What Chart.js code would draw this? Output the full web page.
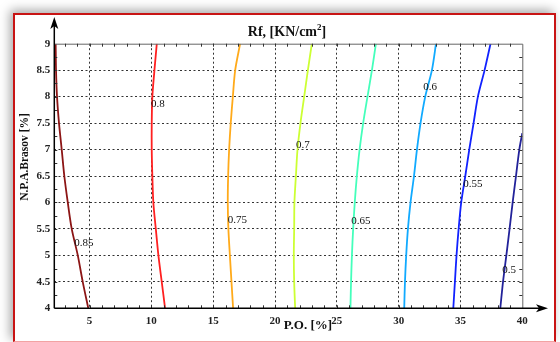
<!DOCTYPE html>
<html>
<head>
<meta charset="utf-8">
<script src="https://cdn.jsdelivr.net/npm/chart.js@4.4.1/dist/chart.umd.min.js"></script>
<style>
  html, body { margin: 0; padding: 0; background: #fff; overflow: hidden; }
  .frame {
    position: absolute; left: 13px; top: 13px; width: 539px; height: 326px;
    border: 2px solid #c81414; border-bottom: 1px solid #f2a3a3;
    box-shadow: -3px -3px 10px rgba(0, 0, 0, 0.35); background: #fff;
  }
  #rf { position: absolute; left: 0; top: 0; }
</style>
</head>
<body>
<div class="frame"></div>
<canvas id="rf" width="560" height="342"></canvas>
<script>
// N.P.A.Brasov values where each contour was read
const yLevels = [4, 4.5, 5, 5.5, 6, 6.5, 7, 7.5, 8, 8.5, 9];
const yLevels050 = [4, 4.5, 5, 5.5, 6, 6.5, 7, 7.31];

// P.O. values of each Rf contour
const x085 = [4.90, 4.45, 4.05, 3.56, 3.24, 2.96, 2.75, 2.53, 2.37, 2.29, 2.26];
const x080 = [11.11, 10.84, 10.57, 10.36, 10.16, 10.08, 10.03, 10.03, 10.08, 10.25, 10.44];
const x075 = [16.61, 16.48, 16.35, 16.23, 16.18, 16.21, 16.29, 16.42, 16.59, 16.78, 17.18];
const x070 = [21.63, 21.55, 21.52, 21.55, 21.57, 21.69, 21.82, 22.06, 22.36, 22.66, 22.98];
const x065 = [26.10, 26.15, 26.22, 26.32, 26.45, 26.62, 26.84, 27.13, 27.48, 27.84, 28.16];
const x060 = [30.45, 30.51, 30.61, 30.75, 30.96, 31.24, 31.48, 31.77, 32.15, 32.69, 33.02];
const x055 = [34.42, 34.55, 34.68, 34.85, 35.06, 35.39, 35.71, 36.06, 36.41, 36.95, 37.43];
const x050 = [38.22, 38.44, 38.71, 38.97, 39.22, 39.49, 39.76, 40];

const levels = ["0.85", "0.8", "0.75", "0.7", "0.65", "0.6", "0.55", "0.5"];
const colors = ["#8c1515", "#ff2020", "#ffaa1a", "#ccff33", "#44ffbb", "#11aaff", "#1122ff", "#22229a"];

// where the clabel texts sit
const labelX = [3.77, 9.98, 16.18, 21.69, 26.16, 31.99, 35.23, 38.38];
const labelY = [5.23, 7.86, 5.67, 7.09, 5.65, 8.18, 6.35, 4.72];

const xTicks = [5, 10, 15, 20, 25, 30, 35, 40];
const yTicks = [4, 4.5, 5, 5.5, 6, 6.5, 7, 7.5, 8, 8.5, 9];

const serif = '"Liberation Serif", "Times New Roman", serif';

const contours = [
    [x085, yLevels], [x080, yLevels], [x075, yLevels], [x070, yLevels],
    [x065, yLevels], [x060, yLevels], [x055, yLevels], [x050, yLevels050]
];

const datasets = contours.map((c, i) => ({
    label: levels[i],
    data: c[1].map((yv, k) => ({ x: c[0][k], y: yv })),
    showLine: true,
    borderColor: colors[i],
    borderWidth: 1.8,
    pointRadius: 0,
    tension: 0.3,
    fill: false
}));

const decor = {
    id: "decor",
    afterDraw(chart) {
        const { ctx, chartArea: a, scales: { x, y } } = chart;
        ctx.save();

        // top / right box
        ctx.strokeStyle = "#666";
        ctx.lineWidth = 1;
        ctx.beginPath();
        ctx.moveTo(a.left, a.top + 0.5);
        ctx.lineTo(a.right + 0.5, a.top + 0.5);
        ctx.lineTo(a.right + 0.5, a.bottom);
        ctx.stroke();

        // minor ticks
        ctx.strokeStyle = "#333";
        ctx.beginPath();
        for (let v = 3; v < 40; v++) {
            const px = Math.round(x.getPixelForValue(v)) + 0.5;
            ctx.moveTo(px, a.top); ctx.lineTo(px, a.top + 3);
            ctx.moveTo(px, a.bottom); ctx.lineTo(px, a.bottom - 3);
        }
        for (let v = 4.25; v < 9; v += 0.25) {
            const py = Math.round(y.getPixelForValue(v)) + 0.5;
            ctx.moveTo(a.left, py); ctx.lineTo(a.left + 3, py);
            ctx.moveTo(a.right, py); ctx.lineTo(a.right - 3, py);
        }
        ctx.stroke();

        // axes with arrows
        ctx.strokeStyle = "#000";
        ctx.fillStyle = "#000";
        ctx.lineWidth = 1.5;
        ctx.beginPath();
        ctx.moveTo(a.left, a.bottom);
        ctx.lineTo(a.left, 24);
        ctx.moveTo(a.left, a.bottom);
        ctx.lineTo(542, a.bottom);
        ctx.stroke();
        ctx.beginPath();
        ctx.moveTo(a.left, 17);
        ctx.lineTo(a.left - 4, 29);
        ctx.lineTo(a.left, 26);
        ctx.lineTo(a.left + 4, 29);
        ctx.closePath();
        ctx.moveTo(548, a.bottom);
        ctx.lineTo(536, a.bottom - 4);
        ctx.lineTo(539, a.bottom);
        ctx.lineTo(536, a.bottom + 4);
        ctx.closePath();
        ctx.fill();

        // contour labels
        ctx.fillStyle = "#111";
        ctx.font = "11px " + serif;
        ctx.textAlign = "left";
        ctx.textBaseline = "middle";
        levels.forEach((t, i) => {
            ctx.fillText(t, x.getPixelForValue(labelX[i]), y.getPixelForValue(labelY[i]));
        });

        // title with superscript
        const main = "Rf, [KN/cm";
        ctx.font = "bold 14px " + serif;
        const w1 = ctx.measureText(main).width;
        const w3 = ctx.measureText("]").width;
        ctx.font = "bold 9px " + serif;
        const w2 = ctx.measureText("2").width;
        let tx = 287 - (w1 + w2 + w3) / 2;
        ctx.textBaseline = "alphabetic";
        ctx.fillStyle = "#111";
        ctx.font = "bold 14px " + serif;
        ctx.fillText(main, tx, 35.5);
        ctx.font = "bold 9px " + serif;
        ctx.fillText("2", tx + w1, 30);
        ctx.font = "bold 14px " + serif;
        ctx.fillText("]", tx + w1 + w2, 35.5);

        // axis titles
        ctx.textAlign = "center";
        ctx.textBaseline = "middle";
        ctx.font = "bold 13px " + serif;
        ctx.fillText("P.O. [%]", 308, 326);
        ctx.translate(25, 157);
        ctx.rotate(-Math.PI / 2);
        ctx.font = "bold 11.5px " + serif;
        ctx.fillText("N.P.A.Brasov [%]", 0, 0);

        ctx.restore();
    }
};

const tickFont = { family: serif, size: 11, weight: "bold" };

const chart = new Chart(document.getElementById("rf"), {
    type: "scatter",
    data: { datasets: datasets },
    options: {
        responsive: false,
        animation: false,
        devicePixelRatio: 1,
        layout: { padding: { top: 43.7, right: 37.7, bottom: 0, left: 0 } },
        plugins: { legend: { display: false }, tooltip: { enabled: false } },
        scales: {
            x: {
                type: "linear", min: 2.15, max: 40,
                afterBuildTicks: s => { s.ticks = xTicks.map(v => ({ value: v })); },
                afterFit: s => { s.height = 33.7; },
                grid: { drawTicks: false, color: c => (c.tick && c.tick.value < 40 ? "#333" : "rgba(0,0,0,0)") },
                border: { display: false, dash: [2, 2.5] },
                ticks: { color: "#222", font: tickFont, padding: 6, maxRotation: 0, autoSkip: false, callback: v => String(v) }
            },
            y: {
                type: "linear", min: 4, max: 9,
                afterBuildTicks: s => { s.ticks = yTicks.map(v => ({ value: v })); },
                afterFit: s => { s.width = 54.3; },
                grid: { drawTicks: false, color: c => (c.tick && c.tick.value > 4 && c.tick.value < 9 ? "#333" : "rgba(0,0,0,0)") },
                border: { display: false, dash: [2, 2.5] },
                ticks: { color: "#222", font: tickFont, padding: 4, autoSkip: false, callback: v => String(v) }
            }
        }
    },
    plugins: [decor]
});
</script>
</body>
</html>
